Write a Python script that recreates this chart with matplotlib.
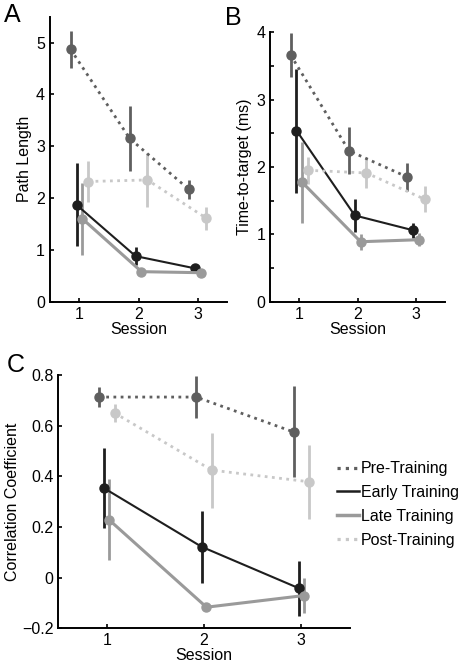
import numpy as np
import matplotlib.pyplot as plt
from matplotlib.lines import Line2D
from matplotlib.ticker import MultipleLocator

plt.rcParams['font.family'] = ['Liberation Sans', 'DejaVu Sans']
plt.rcParams['font.size'] = 11.5

sessions = np.array([1, 2, 3])
groups = ['Pre-Training', 'Early Training', 'Late Training', 'Post-Training']
colors = ['#5f5f5f', '#1e1e1e', '#9a9a9a', '#c8c8c8']
styles = [(0, (1, 1.6)), '-', '-', (0, (1, 1.6))]
widths = [2.0, 1.5, 2.2, 2.0]

# panel A: path length
path_mean = [[4.87, 3.15, 2.17],
             [1.87, 0.88, 0.645],
             [1.60, 0.58, 0.56],
             [2.32, 2.35, 1.61]]
path_err = [[0.35, 0.63, 0.18],
            [0.80, 0.17, 0.05],
            [0.70, 0.03, 0.03],
            [0.40, 0.52, 0.22]]

# panel B: time-to-target
time_mean = [[3.66, 2.24, 1.85],
             [2.54, 1.28, 1.06],
             [1.77, 0.89, 0.92],
             [1.95, 1.91, 1.52]]
time_err = [[0.33, 0.35, 0.21],
            [0.92, 0.24, 0.11],
            [0.60, 0.12, 0.10],
            [0.20, 0.22, 0.19]]

# panel C: correlation coefficient
corr_mean = [[0.714, 0.714, 0.576],
             [0.353, 0.122, -0.042],
             [0.228, -0.117, -0.071],
             [0.651, 0.425, 0.379]]
corr_err = [[0.04, 0.083, 0.18],
            [0.158, 0.143, 0.109],
            [0.16, 0.01, 0.07],
            [0.037, 0.148, 0.147]]


def panel(ax, means, errs, offsets, ylim, yticks, ylabel, minor=None):
    for i in range(4):
        x = sessions + offsets[i]
        ax.errorbar(x, means[i], yerr=errs[i], color=colors[i], ecolor=colors[i],
                    linestyle=styles[i], linewidth=widths[i], elinewidth=2,
                    marker='o', markersize=6.5, capsize=0)
    ax.set_xlim(0.5, 3.5)
    ax.set_ylim(*ylim)
    ax.set_xticks([1, 2, 3])
    ax.set_yticks(yticks)
    if minor:
        ax.yaxis.set_minor_locator(MultipleLocator(minor))
    for s in ['top', 'right']:
        ax.spines[s].set_visible(False)
    for s in ['left', 'bottom']:
        ax.spines[s].set_linewidth(1.4)
    ax.tick_params(direction='in', length=3, width=1.2, labelsize=11.5)
    ax.tick_params(which='minor', direction='in', length=3, width=1.2)
    ax.set_xlabel('Session', fontsize=11.5, labelpad=0)
    ax.set_ylabel(ylabel, fontsize=11.5, labelpad=3)


fig = plt.figure(figsize=(4.58, 6.69), dpi=100)
axA = fig.add_axes([0.109, 0.549, 0.387, 0.426])
axB = fig.add_axes([0.590, 0.549, 0.382, 0.403])
axC = fig.add_axes([0.127, 0.061, 0.637, 0.378])

panel(axA, path_mean, path_err, [-0.15, -0.05, 0.05, 0.15], (0, 5.5),
      [0, 1, 2, 3, 4, 5], 'Path Length')
panel(axB, time_mean, time_err, [-0.15, -0.05, 0.05, 0.15], (0, 4),
      [0, 1, 2, 3, 4], 'Time-to-target (ms)', minor=0.5)
panel(axC, corr_mean, corr_err, [-0.08, -0.025, 0.025, 0.08], (-0.2, 0.8),
      [-0.2, 0, 0.2, 0.4, 0.6, 0.8], 'Correlation Coefficient')
axC.set_yticklabels(['\u22120.2', '0', '0.2', '0.4', '0.6', '0.8'])
axC.yaxis.set_label_coords(-0.13, 0.5)

handles = [Line2D([], [], color=colors[i], linestyle=styles[i], linewidth=widths[i] + 0.3)
           for i in range(4)]
fig.legend(handles, groups, loc='center left', bbox_to_anchor=(0.705, 0.246),
           frameon=False, fontsize=11.5, handlelength=1.35, handletextpad=0.15,
           labelspacing=0.55)

fig.text(0.027, 0.978, 'A', fontsize=18, va='center', ha='center')
fig.text(0.51, 0.973, 'B', fontsize=18, va='center', ha='center')
fig.text(0.035, 0.455, 'C', fontsize=18, va='center', ha='center')

fig.savefig('out.png', dpi=100)
